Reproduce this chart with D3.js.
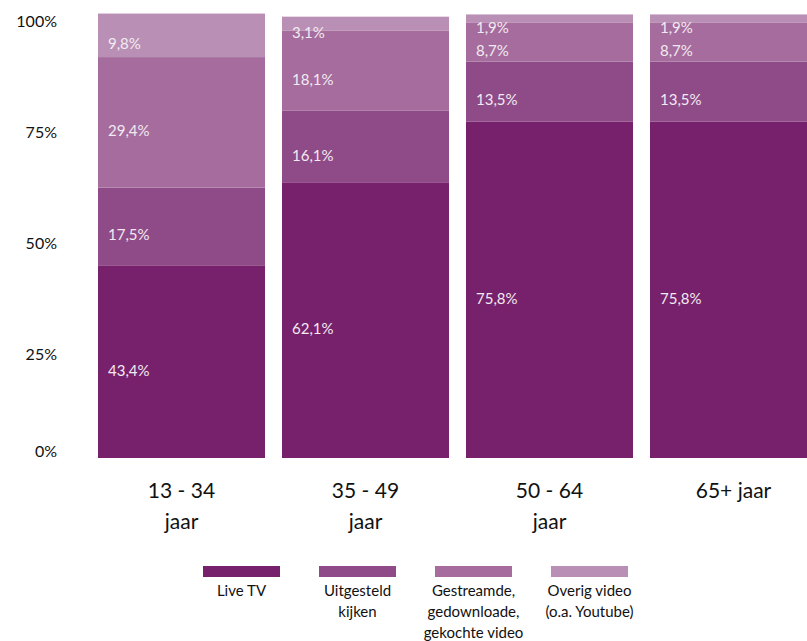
<!DOCTYPE html>
<html>
<head>
<meta charset="utf-8">
<script src="https://cdn.jsdelivr.net/npm/d3@7"></script>
<style>
  body { margin: 0; background: #fff; }
  svg { display: block; font-family: Lato, "Open Sans", sans-serif; }
</style>
</head>
<body>
<div class="chart"></div>
<script>
// categories and series (values in %)
const categories = ["13 - 34 jaar", "35 - 49 jaar", "50 - 64 jaar", "65+ jaar"];
const categoryLines = [["13 - 34", "jaar"], ["35 - 49", "jaar"], ["50 - 64", "jaar"], ["65+ jaar"]];
const seriesNames = ["Live TV", "Uitgesteld kijken", "Gestreamde, gedownloade, gekochte video", "Overig video (o.a. Youtube)"];
const legendLines = [["Live TV"], ["Uitgesteld", "kijken"], ["Gestreamde,", "gedownloade,", "gekochte video"], ["Overig video", "(o.a. Youtube)"]];
const liveTV = [43.4, 62.1, 75.8, 75.8];
const uitgesteld = [17.5, 16.1, 13.5, 13.5];
const gestreamd = [29.4, 18.1, 8.7, 8.7];
const overig = [9.8, 3.1, 1.9, 1.9];
const yTicks = [0, 25, 50, 75, 100];

const colors = ["#77206b", "#8f4b88", "#a56c9d", "#b98fb5"];

const w = 807, h = 641;

// build table for the stack
const table = categories.map((c, i) => ({
    cat: c,
    s0: liveTV[i], s1: uitgesteld[i], s2: gestreamd[i], s3: overig[i]
}));
const stack = d3.stack().keys(["s0", "s1", "s2", "s3"])(table);

// scales
const xScale = d3.scaleBand()
    .domain(categories)
    .range([98, 817])
    .paddingInner(17 / 184)
    .paddingOuter(0);

const yScale = d3.scaleLinear()
    .domain([0, 100])
    .range([458, 14]);

const svg = d3.select("div.chart")
    .append("svg")
    .attr("width", w)
    .attr("height", h);

// y axis (labels only)
const yAxis = d3.axisLeft(yScale)
    .tickValues(yTicks)
    .tickSize(0)
    .tickPadding(0)
    .tickFormat(d => d + "%");
const yg = svg.append("g")
    .attr("transform", "translate(57,0)")
    .call(yAxis);
yg.select(".domain").remove();
yg.selectAll("text")
    .attr("font-family", "Lato, 'Open Sans', sans-serif")
    .attr("font-size", 16)
    .attr("fill", "#111")
    .attr("dy", d => d === 0 ? "-0.1em" : "0.75em");

// stacked bars
const layers = svg.selectAll("g.layer")
    .data(stack)
    .enter()
    .append("g")
    .attr("class", "layer")
    .attr("fill", (d, i) => colors[i]);

layers.selectAll("rect")
    .data(d => d)
    .enter()
    .append("rect")
    .attr("x", d => xScale(d.data.cat))
    .attr("y", d => yScale(d[1]))
    .attr("width", xScale.bandwidth())
    .attr("height", d => yScale(d[0]) - yScale(d[1]));

// value labels
layers.selectAll("text")
    .data(d => d)
    .enter()
    .append("text")
    .attr("x", d => xScale(d.data.cat) + 10)
    .attr("y", d => (yScale(d[0]) + yScale(d[1])) / 2 + 8)
    .attr("dominant-baseline", "central")
    .attr("font-size", 15)
    .attr("fill", "#f2eaf1")
    .text(d => (d[1] - d[0]).toFixed(1).replace(".", ",") + "%");

// category labels
const xg = svg.append("g");
categories.forEach((c, i) => {
    const t = xg.append("text")
        .attr("x", xScale(c) + xScale.bandwidth() / 2)
        .attr("y", 498)
        .attr("text-anchor", "middle")
        .attr("font-size", 21)
        .attr("fill", "#111");
    categoryLines[i].forEach((line, j) => {
        t.append("tspan")
            .attr("x", xScale(c) + xScale.bandwidth() / 2)
            .attr("dy", j === 0 ? 0 : 31)
            .text(line);
    });
});

// legend
const legend = svg.append("g");
seriesNames.forEach((s, i) => {
    const lx = 203 + i * 116;
    legend.append("rect")
        .attr("x", lx)
        .attr("y", 566)
        .attr("width", 77)
        .attr("height", 11)
        .attr("fill", colors[i]);
    const t = legend.append("text")
        .attr("x", lx + 38.5)
        .attr("y", 596)
        .attr("text-anchor", "middle")
        .attr("font-size", 15)
        .attr("fill", "#111");
    legendLines[i].forEach((line, j) => {
        t.append("tspan")
            .attr("x", lx + 38.5)
            .attr("dy", j === 0 ? 0 : 21)
            .text(line);
    });
});
</script>
</body>
</html>
